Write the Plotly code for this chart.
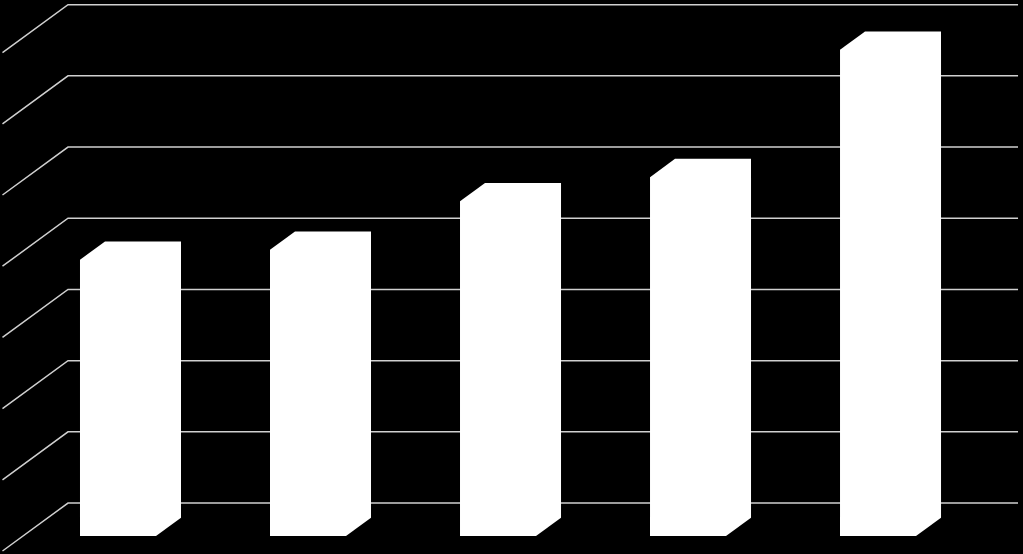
import plotly.graph_objects as go

categories = ["1", "2", "3", "4", "5"]
values = [3.88, 4.02, 4.70, 5.04, 6.83]
grid_values = [0, 1, 2, 3, 4, 5, 6, 7]

# oblique "3D" look: one depth step moves right and up
bar_half = 0.2        # half width of bar front, in category units
depth_dx = 0.1316     # x shift per depth unit
depth_dy = 0.257      # y shift per depth unit
wall_z = 1.8          # back wall depth
front_z = -0.82       # front end of side wall
n = len(categories)

fig = go.Figure()

# gridlines: diagonal on side wall, then along back wall
for v in grid_values:
    xs = [-0.5 + front_z * depth_dx, -0.5 + wall_z * depth_dx, n - 0.5 + wall_z * depth_dx]
    ys = [v + front_z * depth_dy, v + wall_z * depth_dy, v + wall_z * depth_dy]
    fig.add_trace(go.Scatter(x=xs, y=ys, mode="lines",
                             line=dict(color="#d0d0d0", width=1.5),
                             hoverinfo="skip"))

# bars as prisms
for i, (cat, v) in enumerate(zip(categories, values)):
    l, r = i - bar_half, i + bar_half
    xs = [l, l, l + depth_dx, r + depth_dx, r + depth_dx, r, l]
    ys = [0, v, v + depth_dy, v + depth_dy, depth_dy, 0, 0]
    fig.add_trace(go.Scatter(x=xs, y=ys, mode="lines", fill="toself",
                             fillcolor="white", line=dict(color="white", width=0),
                             name=cat, hoverinfo="name"))

fig.update_layout(
    width=1023, height=554,
    margin=dict(l=0, r=0, t=0, b=0),
    paper_bgcolor="black", plot_bgcolor="black",
    showlegend=False,
    xaxis=dict(range=[-0.621, 4.763], visible=False, fixedrange=True),
    yaxis=dict(range=[-0.2528, 7.528], visible=False, fixedrange=True),
)

fig.write_html("out.html",
               config={"displayModeBar": False},
               post_script="document.body.style.margin='0';"
                           "document.body.style.background='black';")
